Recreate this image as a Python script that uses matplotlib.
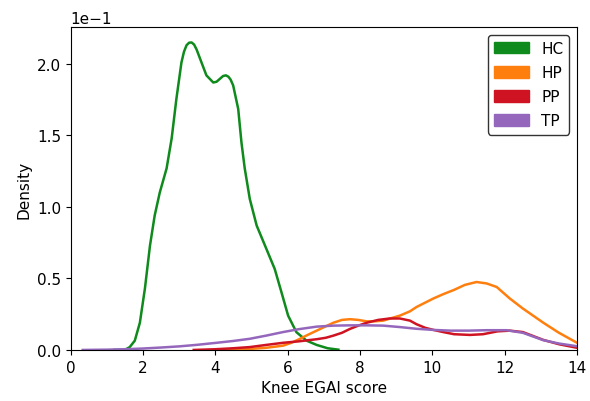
import numpy as np
import matplotlib
matplotlib.use("Agg")
import matplotlib.pyplot as plt
from matplotlib.patches import Patch

# densities (in units of 1e-1)
hc_x = [1.2, 1.49, 1.63, 1.77, 1.91, 2.05, 2.19, 2.32, 2.46, 2.65, 2.79, 2.92, 3.06,
        3.13, 3.2, 3.27, 3.34, 3.41, 3.48, 3.57, 3.75, 3.94, 4.03, 4.12, 4.21, 4.29,
        4.36, 4.42, 4.49, 4.63, 4.72, 4.81, 4.95, 5.14, 5.41, 5.64, 5.83, 6.01, 6.24,
        6.52, 6.8, 7.1, 7.4]
hc_y = [0.0, 0.0, 0.02, 0.065, 0.19, 0.43, 0.73, 0.94, 1.10, 1.27, 1.48, 1.755, 2.01,
        2.085, 2.13, 2.148, 2.15, 2.135, 2.1, 2.04, 1.92, 1.87, 1.875, 1.895, 1.915, 1.92,
        1.91, 1.89, 1.85, 1.685, 1.45, 1.27, 1.056, 0.87, 0.706, 0.566, 0.40, 0.24, 0.124,
        0.065, 0.035, 0.012, 0.002]

hp_x = [4.0, 4.5, 4.95, 5.4, 5.87, 6.1, 6.33, 6.55, 6.8, 7.05, 7.26, 7.5, 7.72, 7.95,
        8.18, 8.4, 8.64, 8.9, 9.1, 9.38, 9.56, 10.03, 10.3, 10.6, 10.9, 11.22, 11.5,
        11.78, 12.14, 12.5, 13.07, 13.5, 14.0]
hp_y = [0.0, 0.003, 0.007, 0.015, 0.03, 0.05, 0.077, 0.105, 0.135, 0.165, 0.19, 0.21,
        0.215, 0.21, 0.20, 0.20, 0.205, 0.225, 0.24, 0.27, 0.30, 0.36, 0.39, 0.42, 0.455,
        0.475, 0.465, 0.44, 0.36, 0.29, 0.19, 0.12, 0.05]

pp_x = [3.4, 4.0, 4.5, 4.95, 5.4, 5.87, 6.3, 6.8, 7.05, 7.26, 7.5, 7.72, 7.95, 8.18,
        8.5, 8.82, 9.1, 9.38, 9.56, 9.8, 10.03, 10.3, 10.6, 11.04, 11.4, 11.8, 12.14,
        12.5, 13.07, 13.5, 14.0]
pp_y = [0.0, 0.005, 0.012, 0.02, 0.035, 0.05, 0.06, 0.075, 0.085, 0.10, 0.12, 0.147,
        0.17, 0.19, 0.21, 0.22, 0.22, 0.205, 0.18, 0.155, 0.14, 0.125, 0.11, 0.105, 0.11,
        0.13, 0.135, 0.125, 0.07, 0.04, 0.015]

tp_x = [0.33, 1.0, 1.5, 2.0, 2.5, 3.0, 3.5, 4.03, 4.5, 4.95, 5.4, 5.87, 6.3, 6.8, 7.26,
        7.72, 8.18, 8.64, 9.1, 9.56, 10.03, 10.5, 11.0, 11.5, 12.05, 12.5, 13.07, 13.5, 14.0]
tp_y = [0.0, 0.002, 0.005, 0.01, 0.017, 0.025, 0.036, 0.05, 0.063, 0.078, 0.10, 0.125,
        0.145, 0.163, 0.17, 0.172, 0.172, 0.17, 0.16, 0.148, 0.14, 0.135, 0.135, 0.138,
        0.138, 0.12, 0.068, 0.045, 0.026]

groups = ["HC", "HP", "PP", "TP"]
colors = ["#0f8a1c", "#ff7f0e", "#cf1322", "#9467bd"]
series = [(hc_x, hc_y), (hp_x, hp_y), (pp_x, pp_y), (tp_x, tp_y)]

plt.rcParams["font.size"] = 11

fig = plt.figure(figsize=(5.9, 4.02), dpi=100)
ax = fig.add_axes([0.12, 0.127, 0.858, 0.803])

for (xs, ys), c in zip(series, colors):
    ax.plot(xs, np.array(ys) * 0.1, color=c, lw=1.8, solid_joinstyle="round")

ax.set_xlim(0, 14)
ax.set_ylim(0, 0.2257)
ax.set_xticks([0, 2, 4, 6, 8, 10, 12, 14])
ax.set_yticks([0.0, 0.05, 0.10, 0.15, 0.20])
ax.ticklabel_format(axis="y", style="sci", scilimits=(0, 0))
ax.set_xlabel("Knee EGAI score")
ax.set_ylabel("Density")

handles = [Patch(facecolor=c, edgecolor=c) for c in colors]
leg = ax.legend(handles, groups, loc="upper right", handlelength=2.3,
                handleheight=0.8, labelspacing=0.6, fancybox=True, framealpha=1)
leg.get_frame().set_edgecolor("#333333")

fig.savefig("out.png", dpi=100)
